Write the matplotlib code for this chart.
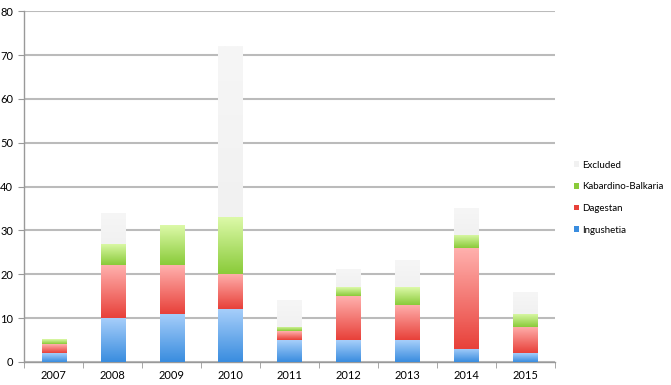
import matplotlib
matplotlib.use("Agg")
import matplotlib.pyplot as plt
import numpy as np
from matplotlib.colors import LinearSegmentedColormap
from matplotlib.patches import Patch

years = ["2007", "2008", "2009", "2010", "2011", "2012", "2013", "2014", "2015"]
ingushetia = [2, 10, 11, 12, 5, 5, 5, 3, 2]
dagestan = [2, 12, 11, 8, 2, 10, 8, 23, 6]
kabardino = [1, 5, 9, 13, 1, 2, 4, 3, 3]
excluded = [0, 7, 0, 39, 6, 4, 6, 6, 5]

series = [
    ("Ingushetia", ingushetia, "#3a8ddf", "#a6cefa"),
    ("Dagestan", dagestan, "#e8413a", "#ffb0ad"),
    ("Kabardino-Balkaria", kabardino, "#8acb3a", "#dcf9a8"),
    ("Excluded", excluded, "#f1f1f1", "#f6f6f6"),
]

plt.rcParams["font.family"] = ["Lato", "DejaVu Sans"]

fig = plt.figure(figsize=(6.71, 3.85), dpi=100)
ax = fig.add_axes([0.036, 0.06, 0.791, 0.911])

x = np.arange(len(years))
width = 0.41
grad = np.linspace(0, 1, 64).reshape(-1, 1)
bottom = np.zeros(len(years))
for name, vals, c0, c1 in series:
    cmap = LinearSegmentedColormap.from_list(name, [c0, c1])
    for xi, b, v in zip(x, bottom, vals):
        if v <= 0:
            continue
        ax.imshow(grad, cmap=cmap, origin="lower", aspect="auto",
                  extent=(xi - width / 2, xi + width / 2, b, b + v), zorder=3)
    bottom += np.array(vals)

ax.set_xlim(-0.5, len(years) - 0.5)
ax.set_ylim(0, 80)
ax.set_yticks(np.arange(0, 81, 10))
ax.set_xticks(x)
ax.set_xticklabels(years)
ax.set_xticks(np.arange(-0.5, len(years), 1), minor=True)
ax.tick_params(axis="x", which="major", length=0, labelsize=8, pad=6)
ax.tick_params(axis="x", which="minor", length=4, color="#999999")
ax.tick_params(axis="y", length=4, color="#999999", labelsize=8, pad=4)
ax.yaxis.grid(True, color="#bbbbbb", linewidth=1.5)
ax.set_axisbelow(True)
for s in ["top", "right"]:
    ax.spines[s].set_visible(False)
for s in ["left", "bottom"]:
    ax.spines[s].set_color("#999999")
    ax.spines[s].set_linewidth(1.0)

handles = [Patch(facecolor=c0, edgecolor="none", label=name)
           for name, vals, c0, c1 in series][::-1]
fig.legend(handles=handles, loc="upper left", bbox_to_anchor=(0.85, 0.593),
           frameon=False, fontsize=7, handlelength=0.5, handleheight=0.5,
           handletextpad=0.3, labelspacing=1.3, borderaxespad=0)

fig.savefig("out.png", dpi=100, facecolor="white")
